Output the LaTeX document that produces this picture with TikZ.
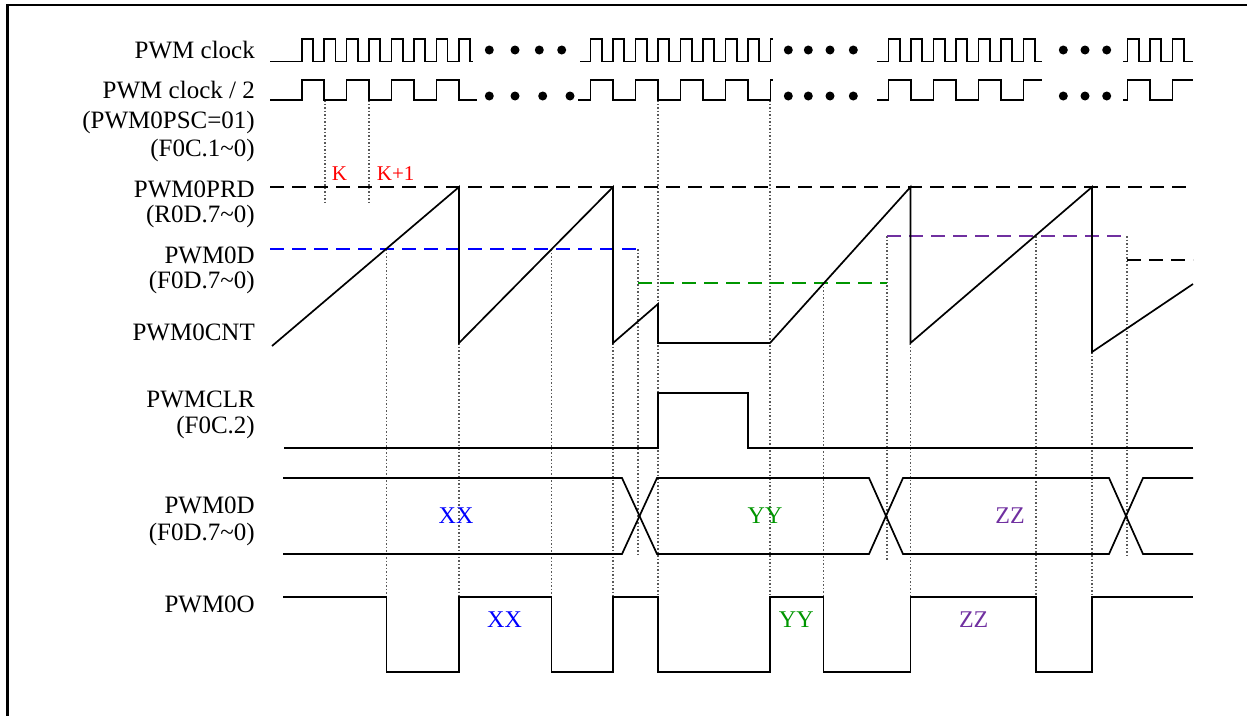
\documentclass[tikz,border=0pt]{standalone}
\usepackage{fontspec}
\setmainfont{Liberation Serif}
\definecolor{cblue}{RGB}{0,0,255}
\definecolor{cgreen}{RGB}{0,150,0}
\definecolor{cpurple}{RGB}{112,48,160}
\definecolor{cred}{RGB}{255,0,0}
\begin{document}
\begin{tikzpicture}[x=1pt,y=-1pt,
  wave/.style={line width=1.7pt,line join=miter},
  dashln/.style={line width=1.6pt,dash pattern=on 14pt off 8pt},
  guide/.style={line width=1.2pt,black!65,dash pattern=on 1.5pt off 2pt},
  lbl/.style={anchor=base east,inner sep=0pt,font=\fontsize{25}{30}\selectfont},
  val/.style={anchor=base,inner sep=0pt,font=\fontsize{24}{28}\selectfont},
  redlbl/.style={inner sep=0pt,text=cred,font=\fontsize{21}{25}\selectfont},
  blob/.style={fill=black}]
\useasboundingbox (0,0) rectangle (1247,715);
% frame
\draw[line width=2.2pt] (7.5,716) -- (7.5,5) -- (1248,5);

% ---------- labels ----------
\node[lbl] (l1) at (255,58) {PWM clock};
\node[lbl] (l2) at (255,98) {PWM clock / 2};
\node[lbl] (l3) at (255,128) {(PWM0PSC=01)};
\node[lbl] (l4) at (255,156) {(F0C.1\textasciitilde 0)};
\node[lbl] (l5) at (255,197) {PWM0PRD};
\node[lbl] (l6) at (255,222) {(R0D.7\textasciitilde 0)};
\node[lbl] (l7) at (255,263) {PWM0D};
\node[lbl] (l8) at (255,288) {(F0D.7\textasciitilde 0)};
\node[lbl] (l9) at (255,340) {PWM0CNT};
\node[lbl] (l10) at (255,407) {PWMCLR};
\node[lbl] (l11) at (255,433) {(F0C.2)};
\node[lbl] (l12) at (255,513) {PWM0D};
\node[lbl] (l13) at (255,540) {(F0D.7\textasciitilde 0)};
\node[lbl] (l14) at (255,612) {PWM0O};

% ---------- guides (dotted) ----------
\draw[guide] (325,100) -- (325,205);
\draw[guide] (369,100) -- (369,205);
\draw[guide] (386.5,249) -- (386.5,597);
\draw[guide] (459,343) -- (459,597);
\draw[guide] (551.5,249) -- (551.5,597);
\draw[guide] (613,343) -- (613,597);
\draw[guide] (638,249) -- (638,557);
\draw[guide] (658,100) -- (658,597);
\draw[guide] (770,100) -- (770,597);
\draw[guide] (823.5,283) -- (823.5,597);
\draw[guide] (887,236) -- (887,560);
\draw[guide] (910.5,343) -- (910.5,597);
\draw[guide] (1036,236) -- (1036,597);
\draw[guide] (1092,352) -- (1092,597);
\draw[guide] (1127,236) -- (1127,558);

% ---------- PWM clock ----------
\draw[wave] (270,61.5) -- (301.7,61.5)
  \foreach \x in {301.7,324.15,346.6,369.05,391.5,413.95,436.4,458.85}
   { -- (\x,61.5) -- (\x,39) -- ++(11.2,0) -- ++(0,22.5) } -- (473,61.5);
\draw[wave] (580,61.5)
  \foreach \x in {590.5,613,635.5,658,680.5,703,725.5,748}
   { -- (\x,61.5) -- (\x,39) -- ++(11.25,0) -- ++(0,22.5) } -- (770.5,61.5) -- (770.5,39) -- (773,39);
\draw[wave] (877,61.5)
  \foreach \x in {888.5,911,933.5,956,978.5,1001,1023.5}
   { -- (\x,61.5) -- (\x,39) -- ++(11.25,0) -- ++(0,22.5) } -- (1042,61.5);
\draw[wave] (1123,61.5)
  \foreach \x in {1127.5,1150,1172.5}
   { -- (\x,61.5) -- (\x,39) -- ++(11.25,0) -- ++(0,22.5) } -- (1193,61.5);
\foreach \x in {489.3,515,539.3,561.7,788.3,808.3,830,853.3,1063.3,1085,1106.7}
  \fill[blob] (\x,50) circle (4.5);

% ---------- PWM clock / 2 ----------
\draw[wave] (270,100) -- (301.7,100) -- (301.7,80) -- (324.15,80) -- (324.15,100)
  -- (346.6,100) -- (346.6,80) -- (369.05,80) -- (369.05,100) -- (391.5,100)
  -- (391.5,80) -- (413.95,80) -- (413.95,100) -- (436.4,100) -- (436.4,80)
  -- (458.85,80) -- (458.85,100) -- (477,100);
\draw[wave] (578,100) -- (590.5,100) -- (590.5,80) -- (613,80) -- (613,100)
  -- (635.5,100) -- (635.5,80) -- (658,80) -- (658,100) -- (680.5,100)
  -- (680.5,80) -- (703,80) -- (703,100) -- (725.5,100) -- (725.5,80)
  -- (748,80) -- (748,100) -- (770.5,100) -- (770.5,80) -- (773,80);
\draw[wave] (877,100) -- (888.5,100) -- (888.5,80) -- (911,80) -- (911,100)
  -- (933.5,100) -- (933.5,80) -- (956,80) -- (956,100) -- (978.5,100)
  -- (978.5,80) -- (1001,80) -- (1001,100) -- (1023.5,100) -- (1023.5,80) -- (1042,80);
\draw[wave] (1123,100) -- (1127.5,100) -- (1127.5,80) -- (1150,80) -- (1150,100)
  -- (1172.5,100) -- (1172.5,80) -- (1193,80);
\foreach \x in {489.3,515,542.7,570,788.3,808.3,830,853.3,1063.3,1085,1106.7}
  \fill[blob] (\x,96) circle (4.5);

% K labels
\node[redlbl,anchor=base] (k0) at (339.5,180) {K};
\node[redlbl,anchor=base west] (k1) at (376.7,180) {K+1};

% ---------- dashed levels ----------
\draw[dashln] (270,187) -- (1193,187);
\draw[dashln,cblue] (270,249) -- (638,249);
\draw[dashln,cgreen] (638,283) -- (887,283);
\draw[dashln,cpurple] (887,236) -- (1127,236);
\draw[dashln] (1127,260) -- (1193,260);

% ---------- PWM0CNT ----------
\draw[wave] (272,346) -- (459,187) -- (459,343) -- (613,187) -- (613,343)
  -- (658,304) -- (658,343) -- (770,343) -- (910.5,187) -- (910.5,343)
  -- (1092,187) -- (1092,352) -- (1193,284);

% ---------- PWMCLR ----------
\draw[wave] (284,448) -- (658,448) -- (658,393) -- (748,393)
  -- (748,448) -- (1193,448);

% ---------- PWM0D bus ----------
\draw[wave] (283,478) -- (622,478) -- (657,554) -- (869,554)
  -- (903,478) -- (1109,478) -- (1143,554) -- (1193,554);
\draw[wave] (283,554) -- (622,554) -- (657,478) -- (869,478)
  -- (903,554) -- (1109,554) -- (1143,478) -- (1193,478);
\node[val,text=cblue] (bx) at (456,523.3) {XX};
\node[val,text=cgreen] (by) at (765,523.3) {YY};
\node[val,text=cpurple] (bz) at (1010,523.3) {ZZ};

% ---------- PWM0O ----------
\draw[wave] (283,597) -- (386.5,597) -- (386.5,672) -- (459,672)
  -- (459,597) -- (551.5,597) -- (551.5,672) -- (613,672)
  -- (613,597) -- (658,597) -- (658,672) -- (770,672)
  -- (770,597) -- (823.5,597) -- (823.5,672) -- (910.5,672)
  -- (910.5,597) -- (1036,597) -- (1036,672) -- (1092,672)
  -- (1092,597) -- (1193,597);
\node[val,text=cblue] (ox) at (504.5,627.7) {XX};
\node[val,text=cgreen] (oy) at (796.3,627.7) {YY};
\node[val,text=cpurple] (oz) at (973.7,627.7) {ZZ};
\end{tikzpicture}
\end{document}
